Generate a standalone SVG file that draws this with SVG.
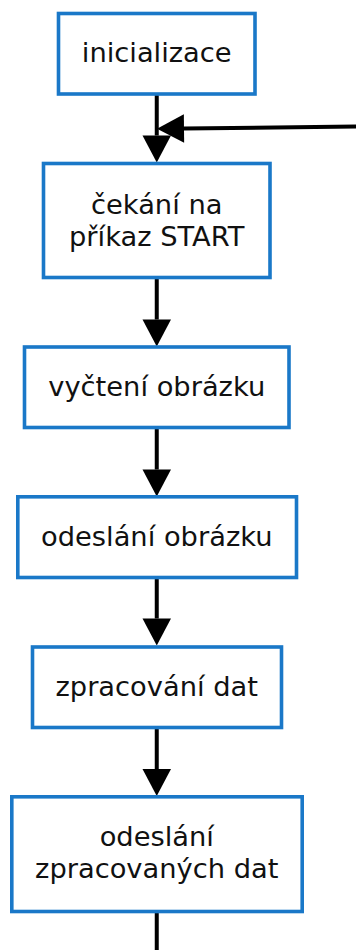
<svg xmlns="http://www.w3.org/2000/svg" width="356" height="950" viewBox="0 0 356 950">
  <style>
    .box { fill: #ffffff; stroke: #1a78c8; stroke-width: 3.6; }
    .label { font-family: "DejaVu Sans", sans-serif; font-size: 27.3px; fill: #111111; text-anchor: middle; }
    .flow { fill: none; stroke: #000000; stroke-width: 4; marker-end: url(#head); }
    .tail { fill: none; stroke: #000000; stroke-width: 4; }
  </style>
  <defs>
    <marker id="head" markerUnits="userSpaceOnUse" markerWidth="28" markerHeight="29" refX="0" refY="14.25" orient="auto" overflow="visible">
      <path d="M0,0 L27,14.25 L0,28.5 Z" fill="#000000"/>
    </marker>
  </defs>

  <rect x="0" y="0" width="356" height="950" fill="#ffffff"/>

  <!-- connectors -->
  <g id="connectors">
    <line class="flow" x1="156.75" y1="95" x2="156.75" y2="135.5"/>
    <line class="flow" x1="358" y1="126.5" x2="184" y2="128.5"/>
    <line class="flow" x1="156.75" y1="279" x2="156.75" y2="319.5"/>
    <line class="flow" x1="156.75" y1="429" x2="156.75" y2="469.5"/>
    <line class="flow" x1="156.75" y1="579" x2="156.75" y2="618.5"/>
    <line class="flow" x1="156.75" y1="729" x2="156.75" y2="769"/>
    <line class="tail" x1="156.75" y1="913" x2="156.75" y2="952"/>
  </g>

  <!-- process steps -->
  <g id="inicializace">
    <rect class="box" x="58.5" y="13.5" width="196.5" height="80.5"/>
    <text class="label" x="156.75" y="61.5">inicializace</text>
  </g>
  <g id="cekani">
    <rect class="box" x="43.5" y="163.5" width="226.5" height="114"/>
    <text class="label" x="156.75" y="213.5">čekání na</text>
    <text class="label" x="156.75" y="245.5">příkaz START</text>
  </g>
  <g id="vycteni">
    <rect class="box" x="24.5" y="347" width="264.5" height="80.5"/>
    <text class="label" x="156.75" y="395.5">vyčtení obrázku</text>
  </g>
  <g id="odeslani-obrazku">
    <rect class="box" x="17.8" y="496.8" width="278.7" height="80.7"/>
    <text class="label" x="156.75" y="545.5">odeslání obrázku</text>
  </g>
  <g id="zpracovani">
    <rect class="box" x="32.5" y="647" width="249" height="80.5"/>
    <text class="label" x="156.75" y="695.5">zpracování dat</text>
  </g>
  <g id="odeslani-dat">
    <rect class="box" x="11.8" y="796.8" width="290.4" height="114.7"/>
    <text class="label" x="156.75" y="845.5">odeslání</text>
    <text class="label" x="156.75" y="878">zpracovaných dat</text>
  </g>
</svg>
